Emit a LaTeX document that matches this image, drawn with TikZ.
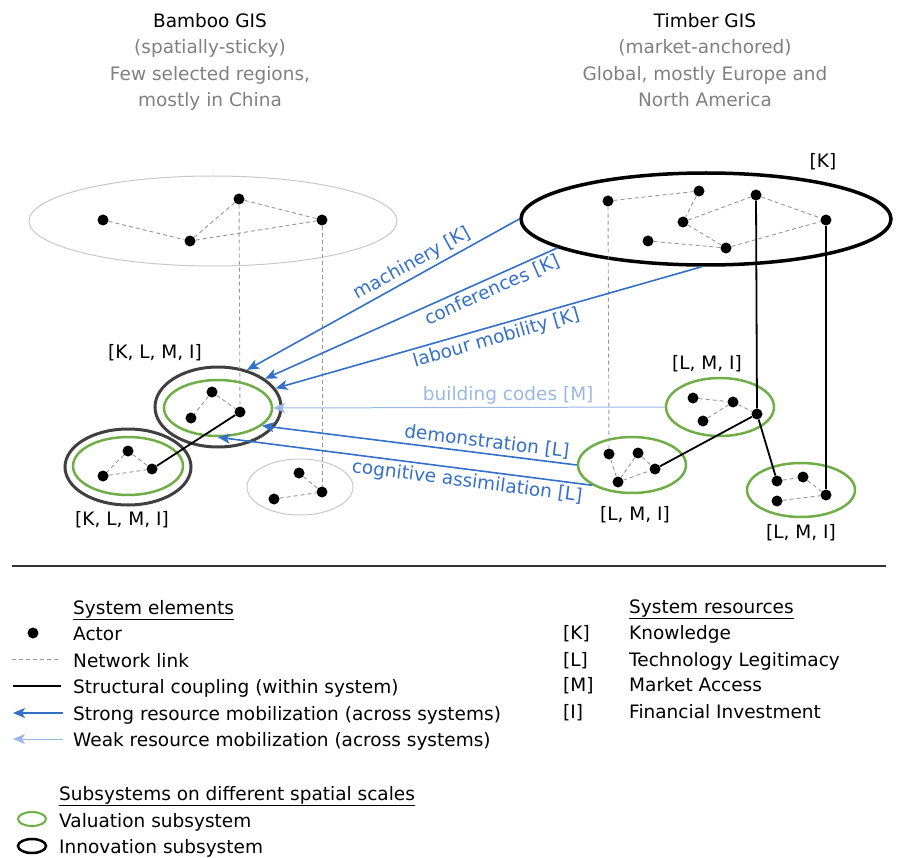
\documentclass[tikz,border=0pt]{standalone}
\usepackage{fontspec}
\setmainfont{DejaVu Sans}
\usepackage{tikz}
\usetikzlibrary{shapes.geometric, arrows.meta, positioning}
\definecolor{strongblue}{RGB}{52,112,200}
\definecolor{weakblue}{RGB}{155,183,230}
\definecolor{valgreen}{RGB}{112,173,71}
\definecolor{titlegray}{RGB}{128,128,128}
\definecolor{linkgray}{RGB}{150,150,150}
\definecolor{regiongray}{RGB}{200,200,200}

\begin{document}
\begin{tikzpicture}[
	x=1pt, y=-1pt,
	font=\fontsize{18.5}{26.5}\selectfont,
	actor/.style={circle, fill=black, inner sep=0pt, minimum size=11pt},
	region/.style={ellipse, draw=regiongray, line width=1pt, inner sep=0pt},
	valuation/.style={ellipse, draw=valgreen, line width=2.5pt, inner sep=0pt},
	innovation/.style={ellipse, draw=black!75, line width=3pt, inner sep=0pt},
	link/.style={draw=linkgray, dash pattern=on 4pt off 3pt, line width=0.9pt},
	coupling/.style={draw=black, line width=1.8pt},
	strong/.style={draw=strongblue, line width=1.6pt, -{Stealth[length=12pt, width=10pt, inset=3pt]}},
	weak/.style={draw=weakblue, line width=1pt, -{Stealth[length=12pt, width=10pt, inset=3pt]}},
	flow/.style={text=strongblue, inner sep=3pt},
	res/.style={anchor=base, inner sep=0pt},
	legend/.style={anchor=base west, inner sep=0pt}
]
\useasboundingbox (0,0) rectangle (901,858);

% Titles
\node[res] (bamTitle) at (210,28) {Bamboo GIS};
\node[res, text=titlegray] (bamSub) at (210,54) {(spatially-sticky)};
\node[res, text=titlegray] (bamScopeA) at (210,81) {Few selected regions,};
\node[res, text=titlegray] (bamScopeB) at (210,107) {mostly in China};
\node[res] (timTitle) at (705,28) {Timber GIS};
\node[res, text=titlegray] (timSub) at (705,54) {(market-anchored)};
\node[res, text=titlegray] (timScopeA) at (705,81) {Global, mostly Europe and};
\node[res, text=titlegray] (timScopeB) at (705,107) {North America};

% Bamboo GIS: regional network
\node[region, minimum width=368pt, minimum height=90pt] (bamReg) at (213,221) {};
\node[actor] (b1) at (103,220) {};
\node[actor] (b2) at (190,241) {};
\node[actor] (b3) at (239,199) {};
\node[actor] (b4) at (322,220) {};
\draw[link] (b1) -- (b2);
\draw[link] (b2) -- (b3);
\draw[link] (b3) -- (b4);
\draw[link] (b2) -- (b4);

% Bamboo subsystems
\node[innovation, minimum width=126pt, minimum height=80pt] (innoA) at (218,407) {};
\node[valuation, minimum width=108pt, minimum height=56pt] (valA) at (218,408) {};
\node[innovation, minimum width=126pt, minimum height=76pt] (innoB) at (128,467) {};
\node[valuation, minimum width=110pt, minimum height=58pt] (valB) at (128,466) {};
\node[region, minimum width=106pt, minimum height=56pt] (regB) at (300,487) {};
\node[res] (resInnoA) at (155,358) {[K, L, M, I]};
\node[res] (resInnoB) at (122,525) {[K, L, M, I]};

\node[actor] (a1) at (212,392) {};
\node[actor] (a2) at (191,418) {};
\node[actor] (a3) at (240,412) {};
\draw[link] (a1) -- (a2);
\draw[link] (a1) -- (a3);

\node[actor] (c1) at (128,451) {};
\node[actor] (c2) at (103,476) {};
\node[actor] (c3) at (152,469) {};
\draw[link] (c1) -- (c2);
\draw[link] (c1) -- (c3);
\draw[link] (c2) -- (c3);

\node[actor] (d1) at (299,473) {};
\node[actor] (d2) at (274,499) {};
\node[actor] (d3) at (322,492) {};
\draw[link] (d1) -- (d3);
\draw[link] (d2) -- (d3);

\draw[link] (b3) -- (a3);
\draw[link] (b4) -- (d3);
\draw[coupling] (c3) -- (a3);

% Timber GIS: global network
\node[ellipse, draw=black, line width=3.5pt, inner sep=0pt, minimum width=370pt, minimum height=92pt] (tim) at (706,219) {};
\node[res] (resTim) at (823,168) {[K]};
\node[actor] (t1) at (608,201) {};
\node[actor] (t2) at (699,191) {};
\node[actor] (t3) at (683,222) {};
\node[actor] (t4) at (756,195) {};
\node[actor] (t5) at (826,220) {};
\node[actor] (t6) at (648,241) {};
\node[actor] (t7) at (726,248) {};
\draw[link] (t1) -- (t2);
\draw[link] (t2) -- (t3);
\draw[link] (t3) -- (t4);
\draw[link] (t3) -- (t7);
\draw[link] (t6) -- (t7);
\draw[link] (t7) -- (t5);
\draw[link] (t4) -- (t5);

% Timber subsystems
\node[valuation, minimum width=108pt, minimum height=58pt] (tvalA) at (720,407) {};
\node[valuation, minimum width=108pt, minimum height=56pt] (tvalB) at (632,465) {};
\node[valuation, minimum width=108pt, minimum height=54pt] (tvalC) at (801,490) {};
\node[res] (resValA) at (707,369) {[L, M, I]};
\node[res] (resValB) at (635,520) {[L, M, I]};
\node[res] (resValC) at (801,538) {[L, M, I]};

\node[actor] (u1) at (693,398) {};
\node[actor] (u2) at (733,402) {};
\node[actor] (u3) at (703,421) {};
\node[actor] (u4) at (757,414) {};
\draw[link] (u1) -- (u2);
\draw[link] (u2) -- (u4);
\draw[link] (u3) -- (u2);

\node[actor] (v1) at (609,454) {};
\node[actor] (v2) at (638,453) {};
\node[actor] (v3) at (655,469) {};
\node[actor] (v4) at (618,482) {};
\draw[link] (v1) -- (v4);
\draw[link] (v2) -- (v4);
\draw[link] (v2) -- (v3);
\draw[link] (v4) -- (v3);

\node[actor] (w1) at (777,481) {};
\node[actor] (w2) at (803,477) {};
\node[actor] (w3) at (777,501) {};
\node[actor] (w4) at (826,495) {};
\draw[link] (w1) -- (w2);
\draw[link] (w2) -- (w4);
\draw[link] (w3) -- (w4);

\draw[link] (t1) -- (v1);
\draw[coupling] (t4) -- (u4);
\draw[coupling] (t5) -- (w4);
\draw[coupling] (u4) -- (w1);
\draw[coupling] (v3) -- (u4);

% Resource mobilization across systems
\draw[strong] (tim.west) -- node[flow, sloped, above, pos=0.37] {machinery [K]} (innoA.52);
\draw[strong] (tim.191) -- node[flow, sloped, below, pos=0.24] {conferences [K]} (innoA.31);
\draw[strong] (tim.265) -- node[flow, sloped, below, pos=0.49] {labour mobility [K]} (innoA.18);
\draw[weak] (tvalA.west) -- node[flow, text=weakblue, above, pos=0.40] {building codes [M]} (valA.east);
\draw[strong] (tvalB.west) -- node[flow, sloped, above, pos=0.29] {demonstration [L]} (valA.-22);
\draw[strong] (tvalB.207) -- node[flow, sloped, below, pos=0.33] {cognitive assimilation [L]} (valA.south);

% Divider
\draw[black!80, line width=1.5pt] (12,566) -- (886,566);

% Legend: system elements
\node[legend] (lgHead) at (73,614) {\underline{System elements}};
\node[actor] (lgActor) at (33,633) {};
\node[legend] (lgActorTxt) at (73,640) {Actor};
\coordinate (lgLinkA) at (12,659);
\coordinate (lgLinkB) at (60,659);
\draw[link] (lgLinkA) -- (lgLinkB);
\node[legend] (lgLinkTxt) at (73,667) {Network link};
\coordinate (lgCoupA) at (13,686);
\coordinate (lgCoupB) at (61,686);
\draw[coupling, line width=1.2pt] (lgCoupA) -- (lgCoupB);
\node[legend] (lgCoupTxt) at (73,693) {Structural coupling (within system)};
\coordinate (lgStrongA) at (63,713);
\coordinate (lgStrongB) at (13,713);
\draw[strong] (lgStrongA) -- (lgStrongB);
\node[legend] (lgStrongTxt) at (73,720) {Strong resource mobilization (across systems)};
\coordinate (lgWeakA) at (63,739);
\coordinate (lgWeakB) at (13,739);
\draw[weak] (lgWeakA) -- (lgWeakB);
\node[legend] (lgWeakTxt) at (73,746) {Weak resource mobilization (across systems)};

% Legend: subsystems
\node[legend] (lgSubHead) at (59,800) {\underline{Subsystems on different spatial scales}};
\node[valuation, line width=2pt, minimum width=28pt, minimum height=14pt] (lgVal) at (32,819) {};
\node[legend] (lgValTxt) at (59,827) {Valuation subsystem};
\node[ellipse, draw=black, line width=2.5pt, inner sep=0pt, minimum width=28pt, minimum height=14pt] (lgInno) at (32,846) {};
\node[legend] (lgInnoTxt) at (59,853) {Innovation subsystem};

% Legend: system resources
\node[legend] (lgResHead) at (629,613) {\underline{System resources}};
\node[legend] (lgK) at (563,639) {[K]};
\node[legend] (lgKTxt) at (629,639) {Knowledge};
\node[legend] (lgL) at (563,666) {[L]};
\node[legend] (lgLTxt) at (629,666) {Technology Legitimacy};
\node[legend] (lgM) at (563,691) {[M]};
\node[legend] (lgMTxt) at (629,691) {Market Access};
\node[legend] (lgI) at (563,718) {[I]};
\node[legend] (lgITxt) at (629,718) {Financial Investment};
\end{tikzpicture}
\end{document}
